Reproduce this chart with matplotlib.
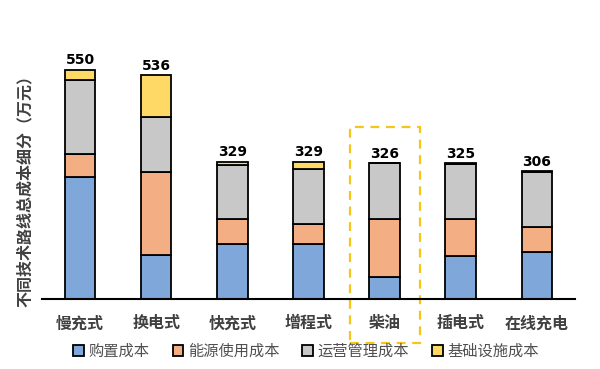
import numpy as np
import matplotlib.pyplot as plt
from matplotlib.patches import Rectangle, Patch

plt.rcParams['font.family'] = ['Noto Sans CJK SC', 'DejaVu Sans']

# data (万元)
routes = ['慢充式', '换电式', '快充式', '增程式', '柴油', '插电式', '在线充电']
purchase = [292, 105, 130, 130, 51, 102, 111]
energy = [56, 200, 60, 50, 140, 89, 61]
operation = [178, 131, 131, 131, 135, 133, 133]
infra = [24, 100, 8, 18, 0, 1, 1]
totals = [550, 536, 329, 329, 326, 325, 306]
series_names = ['购置成本', '能源使用成本', '运营管理成本', '基础设施成本']
colors = ['#7FA7DA', '#F4AE83', '#C8C8C8', '#FED966']

fig = plt.figure(figsize=(6, 3.69), dpi=100)
ax = fig.add_axes([0.07, 0.191, 0.888, 0.677])

x = np.arange(len(routes))
bottom = np.zeros(len(routes))
for vals, c in zip([purchase, energy, operation, infra], colors):
    ax.bar(x, vals, 0.4, bottom=bottom, color=c, edgecolor='black', linewidth=1.3)
    bottom += np.array(vals)

for xi, t in zip(x, totals):
    ax.text(xi, t + 5, str(t), ha='center', va='bottom', fontsize=10,
            fontweight='bold', family=['DejaVu Sans'])

ax.set_xlim(-0.5, 6.5)
ax.set_ylim(0, 600)
for s in ['top', 'right', 'left']:
    ax.spines[s].set_visible(False)
ax.spines['bottom'].set_linewidth(1.5)
ax.set_yticks([])
ax.set_xticks(x)
ax.set_xticklabels(routes, fontsize=11.5, fontweight='bold', color='#404040')
ax.tick_params(axis='x', length=0, pad=12)

fig.text(0.042, 0.493, '不同技术路线总成本细分（万元）', rotation=90, ha='center',
         va='center', fontsize=11.5, fontweight='bold', color='#404040')

# highlight box around 柴油
ax.add_patch(Rectangle((3.54, -107), 0.92, 519, fill=False, edgecolor='#F5C518',
                       linestyle=(0, (4, 3)), linewidth=1.6, clip_on=False))

handles = [Patch(facecolor=c, edgecolor='black', linewidth=1.3) for c in colors]
fig.legend(handles, series_names, loc='center', bbox_to_anchor=(0.51, 0.048),
           ncol=4, frameon=False, fontsize=11, handlelength=0.7, handleheight=0.7,
           handletextpad=0.3, columnspacing=1.5, labelcolor='#505050')

fig.savefig('out.png', dpi=100)
